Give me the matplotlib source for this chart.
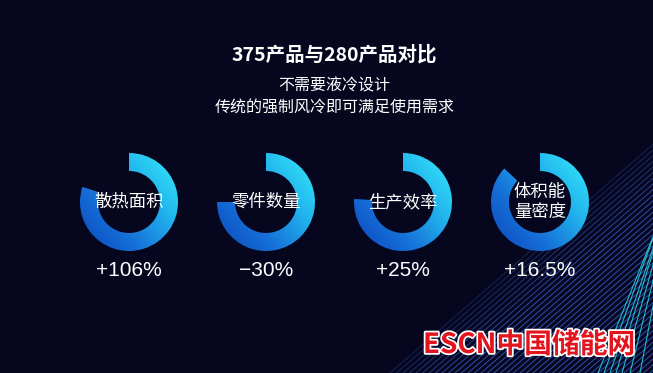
import numpy as np
import matplotlib.pyplot as plt
from matplotlib.patches import Wedge
from matplotlib.colors import LinearSegmentedColormap
import matplotlib.patheffects as pe

plt.rcParams['font.family'] = ['Noto Sans CJK SC', 'DejaVu Sans']

# data
title = '375产品与280产品对比'
subtitle = ['不需要液冷设计', '传统的强制风冷即可满足使用需求']
labels = ['散热面积', '零件数量', '生产效率', '体积能\n量密度']
values = ['+106%', '\u221230%', '+25%', '+16.5%']
ring_fill = [0.80, 0.75, 0.76, 0.87]   # share of the ring that is drawn

W, H = 653, 373
BG = '#06071f'
ring_cmap = LinearSegmentedColormap.from_list(
    'ring', ['#0a45bb', '#1670d8', '#22b6ee', '#38eefa'])

fig = plt.figure(figsize=(W / 100, H / 100), dpi=100, facecolor=BG)
ax = fig.add_axes([0, 0, 1, 1])
ax.set_facecolor(BG)
ax.axis('off')


def py(y):
    # pixel row (from top) -> axes y
    return H - y


# decorative diagonal lines on the right
ang = np.radians(41)
starts = np.arange(390, 655, 6.5)
for i, x0 in enumerate(starts):
    L = 600
    alpha = 0.35 + 0.55 * min(1, i / 10)
    ax.plot([x0, x0 + L * np.cos(ang)], [0, L * np.sin(ang)],
            color='#3156bd', lw=0.7, alpha=alpha, zorder=1)
for x0, a in [(598, 68), (604, 70), (610, 71), (616, 73), (622, 74), (630, 76), (640, 79)]:
    a = np.radians(a)
    ax.plot([x0, x0 + 250 * np.cos(a)], [0, 250 * np.sin(a)],
            color='#27d6ea', lw=0.8, alpha=0.85, zorder=1)

# rings
centers_x = [129, 266, 403, 540]
cy = py(202)
r_out, width = 49, 18
d = np.array([np.cos(np.radians(40)), np.sin(np.radians(40))])
gx, gy = np.meshgrid(np.linspace(-1, 1, 200), np.linspace(-1, 1, 200))
grad = (gx * d[0] + gy * d[1]) / np.sqrt(2) * 0.5 + 0.5

for cx, frac, lab, val in zip(centers_x, ring_fill, labels, values):
    sweep = frac * 360
    wedge = Wedge((cx, cy), r_out, 90 - sweep, 90, width=width,
                  facecolor='none', edgecolor='none')
    ax.add_patch(wedge)
    im = ax.imshow(grad, cmap=ring_cmap, vmin=0, vmax=1, origin='lower',
                   extent=[cx - r_out, cx + r_out, cy - r_out, cy + r_out],
                   zorder=2, interpolation='bilinear')
    im.set_clip_path(wedge)
    ax.text(cx, cy, lab, color='white', fontsize=12.5, fontweight='medium',
            ha='center', va='center', linespacing=1.15, zorder=3)
    ax.text(cx, py(270), val, color='white', fontsize=15, ha='center',
            va='center', family=['Liberation Sans', 'DejaVu Sans'], zorder=3)

ax.set_aspect('auto')
ax.set_xlim(0, W)
ax.set_ylim(0, H)

# titles
ax.text(W / 2 + 8, py(55), title, color='white', fontsize=14,
        fontweight='bold', ha='center', va='center')
ax.text(W / 2 + 8, py(86), subtitle[0], color='white', fontsize=11.5,
        ha='center', va='center')
ax.text(W / 2 + 8, py(107), subtitle[1], color='white', fontsize=11.5,
        ha='center', va='center')

# watermark
ax.text(529, py(345), 'ESCN中国储能网', color='#e3141e', fontsize=20,
        fontweight='heavy', ha='center', va='center', zorder=4,
        path_effects=[pe.withStroke(linewidth=2.5, foreground='white')])

fig.savefig('out.png', dpi=100, facecolor=BG)
